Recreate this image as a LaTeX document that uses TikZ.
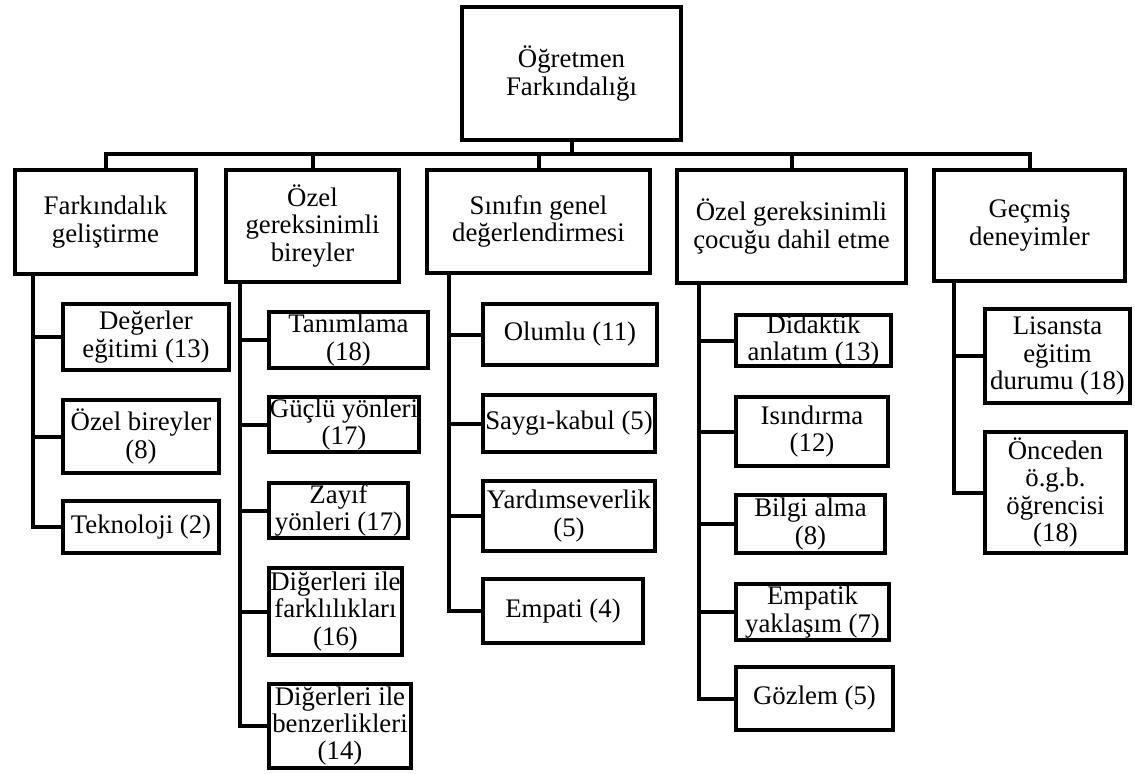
\documentclass[tikz,border=0pt]{standalone}
\usepackage{fontspec}
\setmainfont{Liberation Serif}
\tikzset{
  box/.style={draw, line width=4pt, inner sep=0pt, align=center, fill=white,
    font=\fontsize{26.8}{27.3}\selectfont},
  conn/.style={line width=4pt, line join=miter}
}
\newcommand\bx[6]{\node[box, minimum width={(#4-#2-4)*1pt}, minimum height={(#5-#3-4)*1pt}] (#1) at ({(#2+#4)/2},{-(#3+#5)/2}) {#6};}
\begin{document}
\begin{tikzpicture}[x=1pt,y=1pt]
\useasboundingbox (0,0) rectangle (1139,-773);
% root
\bx{root}{460}{5}{683}{142}{Öğretmen\\Farkındalığı}
% level 1
\bx{la}{13}{168}{198}{276}{Farkındalık\\geliştirme}
\bx{lb}{224}{168}{401}{284}{Özel\\gereksinimli\\bireyler}
\bx{lc}{425}{168}{652}{275}{Sınıfın genel\\değerlendirmesi}
\bx{ld}{675}{168}{908}{285}{Özel gereksinimli\\çocuğu dahil etme}
\bx{le}{932}{168}{1127}{283}{Geçmiş\\deneyimler}
% column a
\bx{a1}{61}{302}{231}{372}{Değerler\\eğitimi (13)}
\bx{a2}{61}{398}{221}{475}{Özel bireyler\\(8)}
\bx{a3}{61}{499}{221}{555}{Teknoloji (2)}
% column b
\bx{b1}{267}{310}{430}{370}{Tanımlama\\(18)}
\bx{b2}{267}{395}{421}{454}{Güçlü yönleri\\(17)}
\bx{b3}{267}{481}{410}{540}{Zayıf\\yönleri (17)}
\bx{b4}{267}{566}{404}{657}{Diğerleri ile\\farklılıkları\\(16)}
\bx{b5}{267}{682}{413}{770}{Diğerleri ile\\benzerlikleri\\(14)}
% column c
\bx{c1}{481}{302}{659}{367}{Olumlu (11)}
\bx{c2}{481}{393}{657}{454}{Saygı-kabul (5)}
\bx{c3}{481}{479}{657}{553}{Yardımseverlik\\(5)}
\bx{c4}{481}{577}{645}{645}{Empati (4)}
% column d
\bx{d1}{734}{313}{893}{368}{Didaktik\\anlatım (13)}
\bx{d2}{734}{395}{890}{468}{Isındırma\\(12)}
\bx{d3}{734}{493}{887}{555}{Bilgi alma\\(8)}
\bx{d4}{734}{582}{891}{642}{Empatik\\yaklaşım (7)}
\bx{d5}{734}{665}{895}{732}{Gözlem (5)}
% column e
\bx{e1}{983}{307}{1132}{405}{Lisansta\\eğitim\\durumu (18)}
\bx{e2}{983}{430}{1128}{555}{Önceden\\ö.g.b.\\öğrencisi\\(18)}
% bus
\coordinate (busL) at (103.5,-154);
\coordinate (busR) at (1031.5,-154);
\draw[conn] (busL) -- (busR);
\draw[conn] (root.south) -- (root.south |- busL);
\foreach \n in {la,lb,lc,ld,le}{
  \draw[conn] (\n.north) -- (\n.north |- busL);
}
% trunks
\coordinate (ta) at (33,0);
\coordinate (tb) at (240,0);
\coordinate (tc) at (449,0);
\coordinate (td) at (699,0);
\coordinate (te) at (954,0);
\foreach \c in {a1,a2,a3}{ \draw[conn] (la.south -| ta) |- (\c.west); }
\foreach \c in {b1,b2,b3,b4,b5}{ \draw[conn] (lb.south -| tb) |- (\c.west); }
\foreach \c in {c1,c2,c3,c4}{ \draw[conn] (lc.south -| tc) |- (\c.west); }
\foreach \c in {d1,d2,d3,d4,d5}{ \draw[conn] (ld.south -| td) |- (\c.west); }
\foreach \c in {e1,e2}{ \draw[conn] (le.south -| te) |- (\c.west); }
\end{tikzpicture}
\end{document}
